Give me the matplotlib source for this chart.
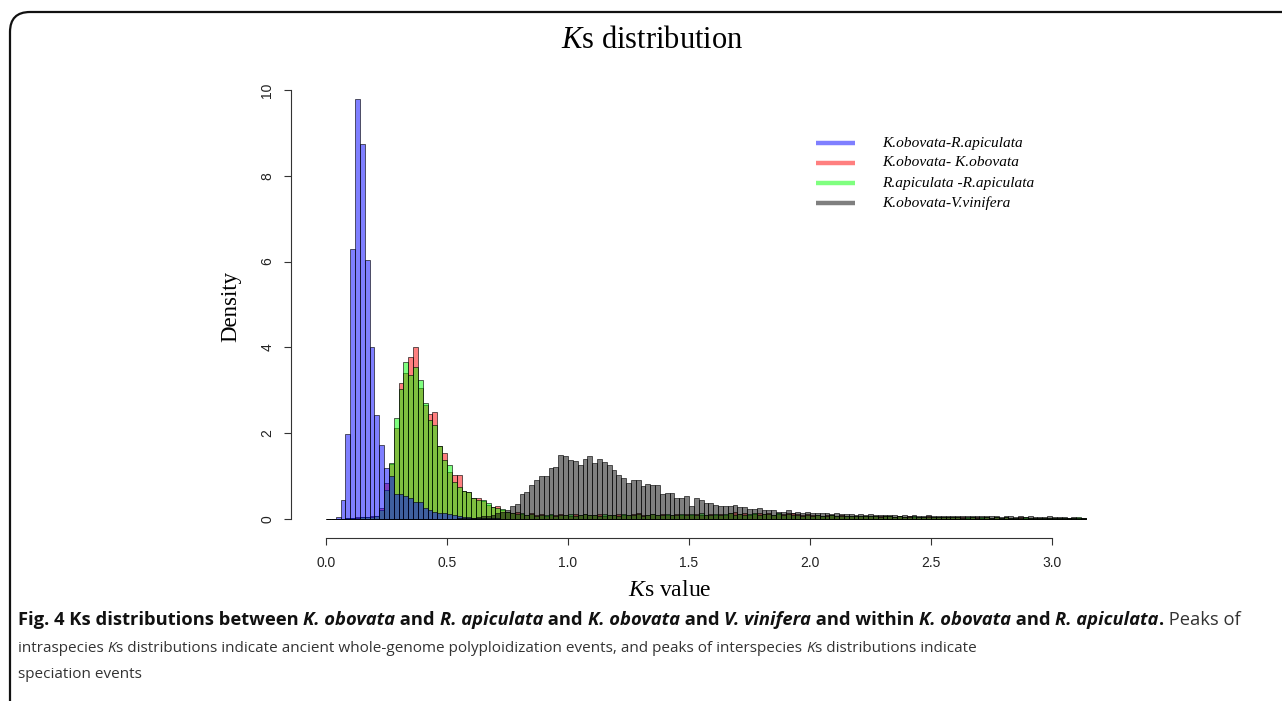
import numpy as np
import matplotlib

matplotlib.use("Agg")
import matplotlib.pyplot as plt
from matplotlib.lines import Line2D
from matplotlib.path import Path
from matplotlib.patches import PathPatch
from matplotlib.transforms import IdentityTransform

W, H, DPI = 1282, 701, 100

# histogram bins: 0.02 wide, starting at Ks = 0
BIN_WIDTH = 0.02
N_BINS = 157

# densities per bin (bin i covers [0.02*i, 0.02*i + 0.02]); missing tail = 0
ko_ra = [0, 0, 0.05, 0.45, 1.98, 6.29, 9.79, 8.74, 6.04, 4.02,
         2.42, 1.73, 1.19, 1.00, 0.58, 0.58, 0.54, 0.48, 0.40, 0.40,
         0.26, 0.22, 0.17, 0.15, 0.13, 0.11, 0.09, 0.07, 0.05, 0.04,
         0.03, 0.03, 0.02, 0.02, 0.02, 0.02, 0.01, 0.01, 0.01, 0.01]

ko_ko = [0, 0, 0, 0.01, 0.02, 0.03, 0.04, 0.05, 0.05, 0.06,
         0.08, 0.25, 0.83, 1.28, 2.11, 3.16, 3.40, 3.78, 4.00, 3.05,
         2.66, 2.45, 2.50, 1.69, 1.53, 1.10, 1.03, 1.03, 0.66, 0.62,
         0.48, 0.48, 0.42, 0.32, 0.29, 0.30, 0.20, 0.17, 0.15, 0.16,
         0.12, 0.10, 0.13, 0.09, 0.11, 0.08, 0.10, 0.09, 0.12, 0.10,
         0.08, 0.11, 0.09, 0.12, 0.10, 0.09, 0.11, 0.08, 0.10, 0.09,
         0.12, 0.10, 0.09, 0.11, 0.13, 0.10, 0.09, 0.12, 0.10, 0.11,
         0.09, 0.10, 0.12, 0.09, 0.11, 0.10, 0.12, 0.09, 0.10, 0.11,
         0.09, 0.12, 0.10, 0.14, 0.17, 0.11, 0.13, 0.10, 0.12, 0.14,
         0.11, 0.13, 0.10, 0.12, 0.11, 0.13, 0.15, 0.12, 0.10, 0.11,
         0.09, 0.10, 0.08, 0.09, 0.10, 0.08, 0.09, 0.07, 0.08, 0.07,
         0.08, 0.06, 0.07, 0.08, 0.06, 0.07, 0.06, 0.05, 0.06, 0.05,
         0.06, 0.05, 0.04, 0.05, 0.06, 0.04, 0.05, 0.04, 0.05, 0.04,
         0.05, 0.04, 0.03, 0.04, 0.05, 0.03, 0.04, 0.03, 0.04, 0.03,
         0.04, 0.03, 0.03, 0.04, 0.03, 0.02, 0.03, 0.03, 0.02, 0.03,
         0.02, 0.03, 0.02, 0.02, 0.03, 0.02, 0.02]

ra_ra = [0, 0, 0, 0.01, 0.02, 0.03, 0.03, 0.04, 0.05, 0.05,
         0.07, 0.20, 0.68, 1.30, 2.35, 3.02, 3.67, 3.36, 3.55, 3.24,
         2.70, 2.30, 2.20, 1.69, 1.38, 1.26, 0.87, 0.75, 0.66, 0.64,
         0.50, 0.44, 0.44, 0.38, 0.29, 0.25, 0.23, 0.17, 0.14, 0.12,
         0.13, 0.09, 0.11, 0.08, 0.10, 0.09, 0.11, 0.08, 0.10, 0.09,
         0.11, 0.08, 0.10, 0.12, 0.09, 0.10, 0.08, 0.11, 0.09, 0.10,
         0.08, 0.11, 0.10, 0.09, 0.12, 0.08, 0.10, 0.11, 0.09, 0.10,
         0.11, 0.09, 0.10, 0.12, 0.09, 0.11, 0.10, 0.13, 0.09, 0.10,
         0.12, 0.09, 0.11, 0.13, 0.10, 0.12, 0.09, 0.11, 0.14, 0.10,
         0.12, 0.11, 0.09, 0.13, 0.10, 0.11, 0.09, 0.10, 0.08, 0.09,
         0.08, 0.10, 0.07, 0.08, 0.09, 0.07, 0.08, 0.06, 0.07, 0.08,
         0.06, 0.07, 0.06, 0.07, 0.05, 0.06, 0.07, 0.05, 0.06, 0.05,
         0.04, 0.06, 0.05, 0.04, 0.05, 0.05, 0.04, 0.05, 0.04, 0.05,
         0.04, 0.03, 0.04, 0.05, 0.03, 0.04, 0.04, 0.03, 0.04, 0.03,
         0.04, 0.03, 0.02, 0.03, 0.04, 0.03, 0.02, 0.03, 0.03, 0.02,
         0.03, 0.02, 0.03, 0.02, 0.02, 0.04, 0.02]

ko_vv = [0, 0, 0, 0, 0, 0, 0, 0, 0, 0,
         0, 0, 0, 0, 0, 0, 0, 0, 0, 0,
         0, 0, 0, 0, 0, 0.01, 0.01, 0.02, 0.02, 0.03,
         0.03, 0.05, 0.06, 0.08, 0.10, 0.13, 0.17, 0.22, 0.31, 0.36,
         0.59, 0.62, 0.79, 0.92, 1.01, 1.01, 1.18, 1.21, 1.50, 1.47,
         1.37, 1.36, 1.27, 1.39, 1.48, 1.30, 1.41, 1.33, 1.27, 1.14,
         1.02, 0.95, 0.85, 0.91, 0.91, 0.78, 0.81, 0.79, 0.80, 0.59,
         0.60, 0.60, 0.48, 0.48, 0.53, 0.30, 0.48, 0.44, 0.37, 0.37,
         0.32, 0.31, 0.31, 0.30, 0.33, 0.28, 0.28, 0.24, 0.23, 0.25,
         0.22, 0.21, 0.20, 0.17, 0.16, 0.21, 0.13, 0.16, 0.15, 0.17,
         0.14, 0.15, 0.13, 0.14, 0.12, 0.13, 0.12, 0.11, 0.12, 0.10,
         0.11, 0.10, 0.11, 0.09, 0.10, 0.09, 0.10, 0.09, 0.08, 0.09,
         0.08, 0.09, 0.07, 0.08, 0.09, 0.07, 0.08, 0.07, 0.08, 0.07,
         0.06, 0.07, 0.08, 0.06, 0.07, 0.06, 0.07, 0.06, 0.07, 0.05,
         0.06, 0.07, 0.05, 0.06, 0.05, 0.06, 0.05, 0.05, 0.04, 0.06,
         0.04, 0.05, 0.04, 0.03, 0.04, 0.02, 0.03]

labels = ["K.obovata-R.apiculata", "K.obovata- K.obovata",
          "R.apiculata -R.apiculata", "K.obovata-V.vinifera"]
colors = [(0, 0, 1, 0.5), (1, 0, 0, 0.5), (0, 1, 0, 0.5), (0, 0, 0, 0.5)]
series = [ko_ra, ko_ko, ra_ra, ko_vv]
draw_order = [1, 2, 0, 3]   # red, green, blue, then grey on top

x_ticks = [0.0, 0.5, 1.0, 1.5, 2.0, 2.5, 3.0]
y_ticks = [0, 2, 4, 6, 8, 10]

plt.rcParams["mathtext.fontset"] = "custom"
plt.rcParams["mathtext.rm"] = "Liberation Serif"
plt.rcParams["mathtext.it"] = "Liberation Serif:italic"
SERIF = "Liberation Serif"
SANS = "Liberation Sans"


def fx(px):
    return px / W


def fy(py):
    return 1 - py / H


fig = plt.figure(figsize=(W / DPI, H / DPI), dpi=DPI)

# pixel geometry: Ks 0 at x=326, 242 px per unit; density 0 at y=519, 42.9 px per unit
x0, x1, y0, y1 = -0.02, 3.16, -0.1, 10.2
left, right = 326 + x0 * 242, 326 + x1 * 242
bottom, top = 519 - y0 * 42.9, 519 - y1 * 42.9
ax = fig.add_axes([fx(left), fy(bottom), (right - left) / W, (bottom - top) / H])

edges = np.arange(N_BINS) * BIN_WIDTH
for k in draw_order:
    h = np.zeros(N_BINS)
    h[:len(series[k])] = series[k]
    ax.bar(edges, h, width=BIN_WIDTH, align="edge", color=colors[k],
           edgecolor=(0, 0, 0, 0.85), linewidth=0.5)

ax.set_xlim(x0, x1)
ax.set_ylim(y0, y1)
for side in ("top", "right"):
    ax.spines[side].set_visible(False)
ax.spines["left"].set_bounds(0, 10)
ax.spines["bottom"].set_bounds(0, 3)
ax.spines["left"].set_position(("outward", (left - 291) * 72 / DPI))
ax.spines["bottom"].set_position(("outward", (538 - bottom) * 72 / DPI))
for s in ("left", "bottom"):
    ax.spines[s].set_linewidth(0.8)
    ax.spines[s].set_color("#333333")
ax.set_xticks(x_ticks, [f"{t:.1f}" for t in x_ticks])
ax.set_yticks(y_ticks, [str(t) for t in y_ticks])
ax.tick_params(axis="both", length=5, width=0.8, color="#333333",
               labelsize=10, labelcolor="#222222")
ax.tick_params(axis="x", pad=8)
ax.tick_params(axis="y", pad=7)
for t in ax.get_yticklabels():
    t.set_rotation(90)
    t.set_va("center")
    t.set_family(SANS)
for t in ax.get_xticklabels():
    t.set_family(SANS)

fig.text(fx(652), fy(40), r"$\it{K}$s distribution", family=SERIF,
         fontsize=22, ha="center", va="center")
fig.text(fx(670), fy(591), r"$\it{K}$s value", family=SERIF,
         fontsize=17, ha="center", va="center")
fig.text(fx(231), fy(306), "Density", family=SERIF, fontsize=16.5,
         rotation=90, ha="center", va="center")

# legend, drawn by hand to sit where R put it
for i, (lab, col) in enumerate(zip(labels, colors)):
    yy = fy(143 + i * 20)
    fig.add_artist(Line2D([fx(816), fx(855)], [yy, yy], color=col, lw=3.2,
                          solid_capstyle="butt"))
    fig.text(fx(882), yy, lab, family=SERIF, style="italic", fontsize=11.1,
             va="center", ha="left")

# the journal's rounded frame
frame = Path([(10, -10), (10, H - 32), (10, H - 12), (30, H - 12), (W + 10, H - 12)],
             [Path.MOVETO, Path.LINETO, Path.CURVE3, Path.CURVE3, Path.LINETO])
fig.add_artist(PathPatch(frame, transform=IdentityTransform(), fill=False,
                         lw=1.6, edgecolor="#111111"))

# caption
CAP = "Open Sans"
B, BI, R, I = ("bold", "normal"), ("bold", "italic"), ("normal", "normal"), ("normal", "italic")
caption = [
    [("Fig. 4 Ks distributions between ", B), ("K. obovata", BI), (" and ", B),
     ("R. apiculata", BI), (" and ", B), ("K. obovata", BI), (" and ", B),
     ("V. vinifera", BI), (" and within ", B), ("K. obovata", BI), (" and ", B),
     ("R. apiculata", BI), (".", B), (" Peaks of", R)],
    [("intraspecies ", R), ("K", I),
     ("s distributions indicate ancient whole-genome polyploidization events, "
      "and peaks of interspecies ", R), ("K", I), ("s distributions indicate", R)],
    [("speciation events", R)],
]
cap_y = [620, 648, 674]
cap_sizes = [13.2, 11.0, 11.0]
renderer = fig.canvas.get_renderer()
for line, py, size in zip(caption, cap_y, cap_sizes):
    xpos = fx(18)
    for txt, (wt, st) in line:
        t = fig.text(xpos, fy(py), txt, family=CAP, weight=wt, style=st,
                     fontsize=size, va="center", ha="left",
                     color="#111111" if wt == "bold" else "#333333")
        bb = t.get_window_extent(renderer)
        xpos += bb.width / W

fig.savefig("out.png", dpi=DPI)
